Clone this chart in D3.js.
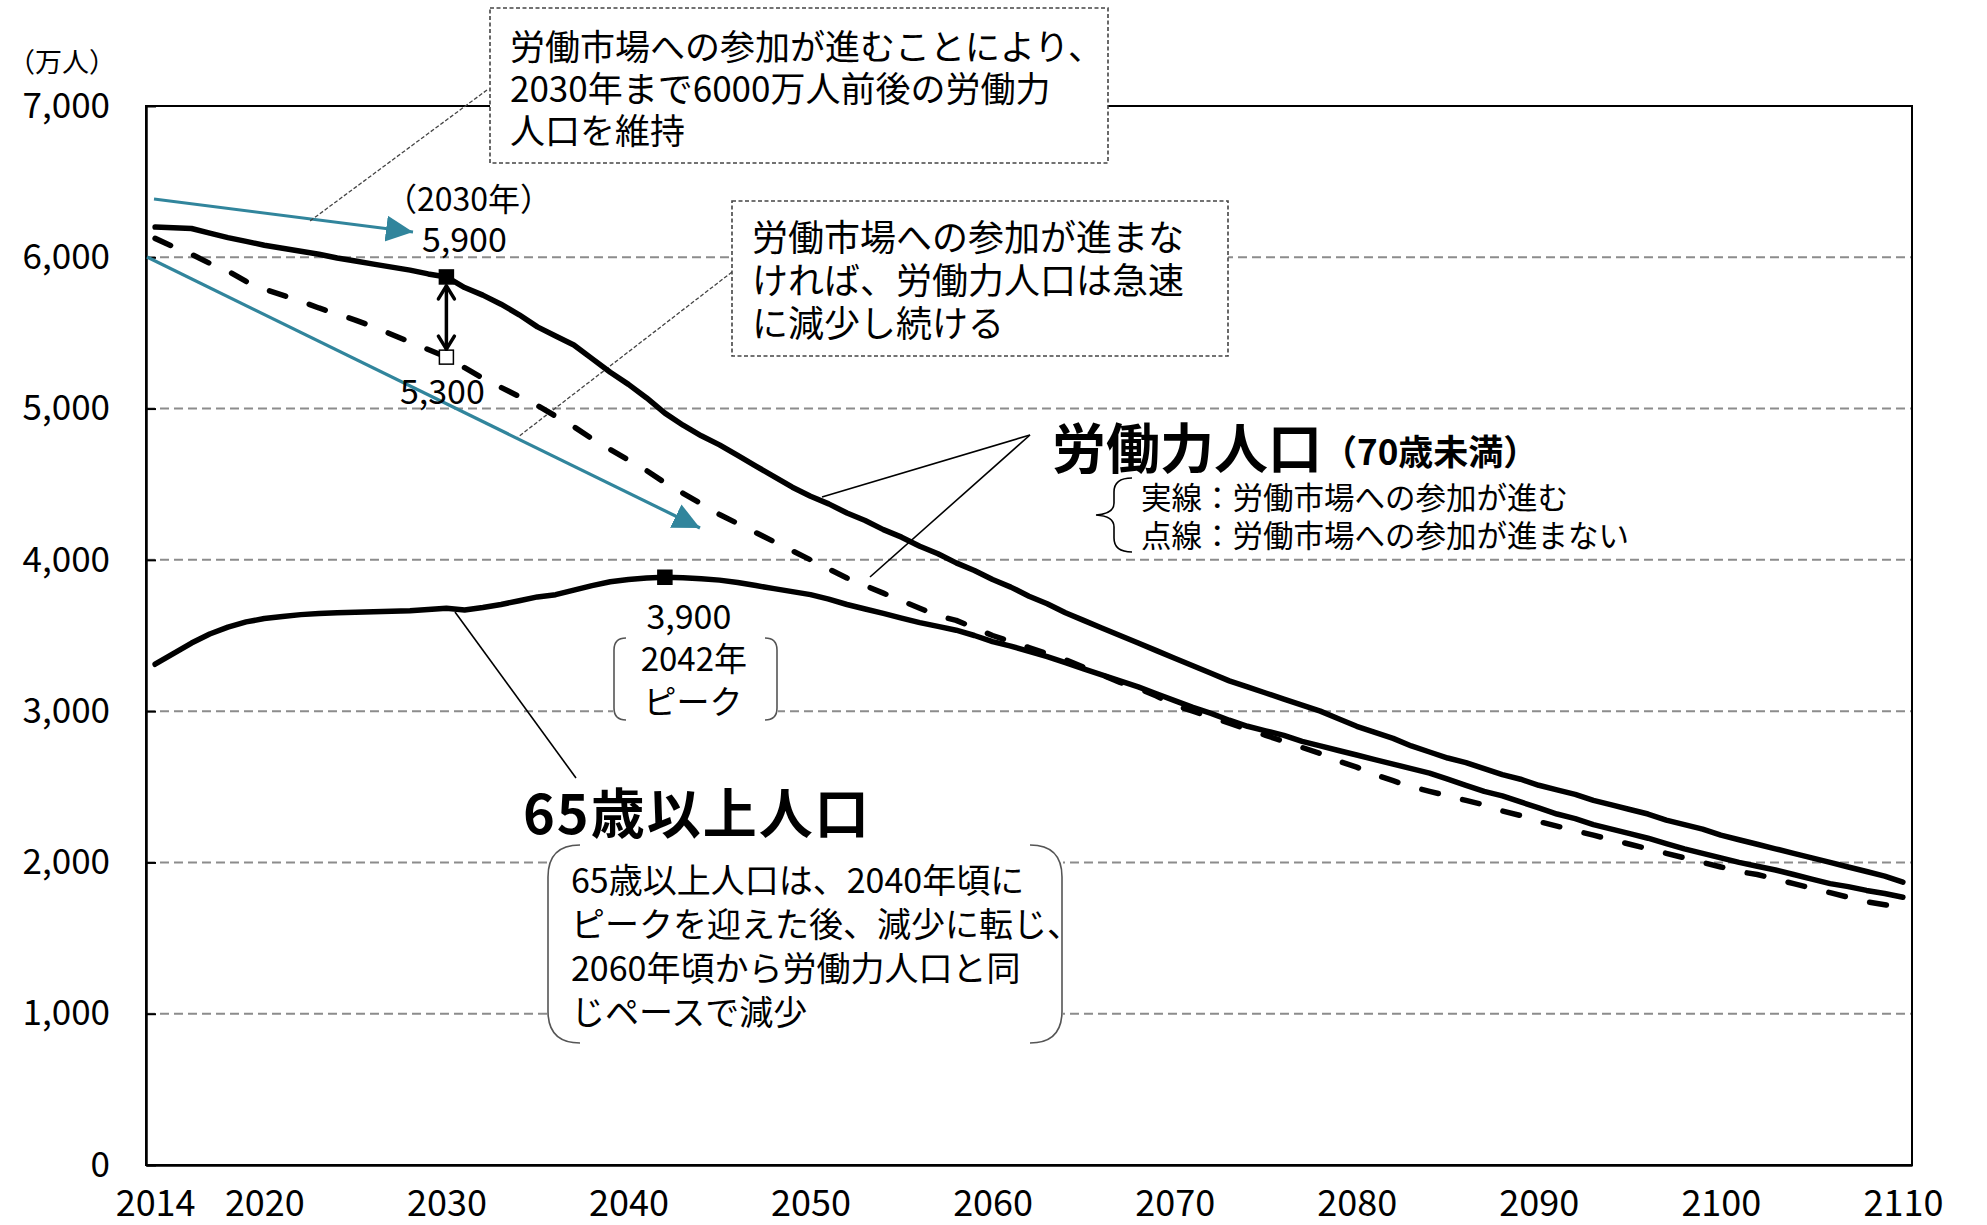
<!DOCTYPE html>
<html>
<head>
<meta charset="utf-8">
<script src="https://cdn.jsdelivr.net/npm/d3@7"></script>
<style>
  html, body { margin: 0; padding: 0; background: #fff; }
  svg text { font-family: "Noto Sans CJK JP", sans-serif; fill: #000; }
</style>
</head>
<body>
<div id="chart"></div>
<script>
// years on the category axis
const years = d3.range(2014, 2111);
const xTicks = [2014, 2020, 2030, 2040, 2050, 2060, 2070, 2080, 2090, 2100, 2110];
const yTicks = [0, 1000, 2000, 3000, 4000, 5000, 6000, 7000];

// 労働力人口（労働市場への参加が進む） - solid
const laborUp = [
  6200, 6195, 6190, 6160, 6130, 6105, 6080, 6060, 6040, 6020,
  5995, 5975, 5955, 5935, 5915, 5890, 5870, 5800, 5750, 5690,
  5620, 5540, 5480, 5420, 5330, 5240, 5160, 5070, 4970, 4890,
  4820, 4760, 4690, 4620, 4550, 4480, 4420, 4370, 4310, 4260,
  4200, 4150, 4090, 4040, 3980, 3930, 3870, 3820, 3760, 3710,
  3650, 3600, 3550, 3500, 3450, 3400, 3350, 3300, 3250, 3200,
  3160, 3120, 3080, 3040, 3000, 2950, 2900, 2860, 2820, 2770,
  2730, 2690, 2660, 2620, 2580, 2550, 2510, 2480, 2450, 2410,
  2380, 2350, 2320, 2280, 2250, 2220, 2180, 2150, 2120, 2090,
  2060, 2030, 2000, 1970, 1940, 1910, 1870
];

// 労働力人口（参加が進まない） - dashed
const laborBase = [
  6125, 6070, 6020, 5960, 5910, 5840, 5790, 5750, 5710, 5665,
  5625, 5585, 5540, 5490, 5440, 5390, 5340, 5270, 5200, 5140,
  5080, 5020, 4950, 4880, 4800, 4730, 4660, 4590, 4510, 4440,
  4370, 4300, 4240, 4180, 4120, 4060, 4000, 3940, 3880, 3830,
  3780, 3730, 3680, 3630, 3600, 3550, 3500, 3460, 3420, 3380,
  3340, 3290, 3240, 3190, 3150, 3100, 3040, 3000, 2960, 2920,
  2880, 2840, 2800, 2760, 2720, 2670, 2630, 2580, 2540, 2500,
  2470, 2440, 2410, 2380, 2340, 2310, 2270, 2240, 2210, 2180,
  2150, 2120, 2090, 2060, 2030, 2000, 1970, 1940, 1920, 1890,
  1860, 1830, 1800, 1770, 1740, 1720, 1700
];

// 65歳以上人口
const elderly = [
  3310, 3380, 3450, 3510, 3555, 3590, 3612, 3625, 3638, 3645,
  3650, 3653, 3657, 3660, 3664, 3672, 3680, 3668, 3685, 3705,
  3730, 3755, 3770, 3800, 3830, 3855, 3870, 3880, 3885, 3882,
  3875, 3866, 3850, 3830, 3810, 3790, 3770, 3740, 3705, 3675,
  3646, 3615, 3585, 3560, 3535, 3500, 3460, 3430, 3395, 3360,
  3320, 3280, 3240, 3200, 3160, 3115, 3070, 3025, 2985, 2940,
  2900, 2870, 2840, 2800, 2770, 2740, 2710, 2680, 2650, 2620,
  2590, 2550, 2510, 2470, 2440, 2400, 2360, 2320, 2290, 2250,
  2220, 2190, 2160, 2125, 2090, 2060, 2030, 2000, 1975, 1950,
  1920, 1890, 1860, 1840, 1815, 1795, 1770
];

const width = 1987;
const height = 1225;
const teal = "#31859C";

const svg = d3.select("#chart")
  .append("svg")
  .attr("width", width)
  .attr("height", height);

const x = d3.scaleLinear().domain([2013.5, 2110.5]).range([146, 1912]);
const y = d3.scaleLinear().domain([0, 7000]).range([1165, 106]);

// gridlines
svg.append("g")
  .selectAll("line")
  .data(yTicks.filter(d => d > 0 && d < 7000))
  .join("line")
  .attr("x1", x.range()[0])
  .attr("x2", x.range()[1])
  .attr("y1", d => y(d))
  .attr("y2", d => y(d))
  .attr("stroke", "#8c8c8c")
  .attr("stroke-width", 2)
  .attr("stroke-dasharray", "9,5");

// plot border
svg.append("rect")
  .attr("x", x.range()[0])
  .attr("y", y(7000))
  .attr("width", x.range()[1] - x.range()[0])
  .attr("height", y(0) - y(7000))
  .attr("fill", "none")
  .attr("stroke", "#000")
  .attr("stroke-width", 2);

// axes
const yAxis = svg.append("g")
  .attr("transform", `translate(${x.range()[0]},0)`)
  .call(d3.axisLeft(y).tickValues(yTicks).tickFormat(d3.format(","))
    .tickSize(-10).tickSizeOuter(0).tickPadding(36))
  .attr("font-size", 35);
yAxis.select(".domain").attr("stroke-width", 2.5);
yAxis.selectAll(".tick line").attr("stroke-width", 2);

const xAxis = svg.append("g")
  .attr("transform", `translate(0,${y(0)})`)
  .call(d3.axisBottom(x).tickValues(xTicks).tickFormat(d3.format("d"))
    .tickSize(0).tickSizeOuter(0).tickPadding(25))
  .attr("font-size", 36);
xAxis.select(".domain").attr("stroke-width", 2.5);

// teal arrows
const defs = svg.append("defs");
defs.append("marker")
  .attr("id", "tealHead")
  .attr("markerUnits", "userSpaceOnUse")
  .attr("markerWidth", 30).attr("markerHeight", 30)
  .attr("refX", 27).attr("refY", 13)
  .attr("orient", "auto")
  .append("path")
  .attr("d", "M0,0 L27,13 L0,26 Z")
  .attr("fill", teal);

const tealArrows = [
  [[154, 199], [413, 232]],
  [[147, 257], [700, 528]]
];
svg.append("g")
  .selectAll("line")
  .data(tealArrows)
  .join("line")
  .attr("x1", d => d[0][0]).attr("y1", d => d[0][1])
  .attr("x2", d => d[1][0]).attr("y2", d => d[1][1])
  .attr("stroke", teal)
  .attr("stroke-width", 3.2)
  .attr("marker-end", "url(#tealHead)");

// thin dashed connectors from the text boxes
const connectors = [
  [[487, 90], [310, 221]],
  [[732, 272], [518, 437]]
];
svg.append("g")
  .selectAll("line")
  .data(connectors)
  .join("line")
  .attr("x1", d => d[0][0]).attr("y1", d => d[0][1])
  .attr("x2", d => d[1][0]).attr("y2", d => d[1][1])
  .attr("stroke", "#444")
  .attr("stroke-width", 1.3)
  .attr("stroke-dasharray", "4,2");

// leader lines for the big labels
const leaders = [
  [[1030, 435], [822, 497]],
  [[1030, 435], [870, 577]],
  [[455, 612], [576, 778]]
];
svg.append("g")
  .selectAll("line")
  .data(leaders)
  .join("line")
  .attr("x1", d => d[0][0]).attr("y1", d => d[0][1])
  .attr("x2", d => d[1][0]).attr("y2", d => d[1][1])
  .attr("stroke", "#000")
  .attr("stroke-width", 1.6);

// data lines
const line = d3.line()
  .x((d, i) => x(years[i]))
  .y(d => y(d));

const series = [
  { values: laborBase, dash: "17,25" },
  { values: elderly, dash: null },
  { values: laborUp, dash: null }
];
svg.append("g")
  .selectAll("path")
  .data(series)
  .join("path")
  .attr("d", d => line(d.values))
  .attr("fill", "none")
  .attr("stroke", "#000")
  .attr("stroke-width", 5.5)
  .attr("stroke-linejoin", "round")
  .attr("stroke-linecap", "round")
  .attr("stroke-dasharray", d => d.dash);

// markers
const idx = yr => years.indexOf(yr);
const sq = 14;
const markers = [
  { yr: 2030, v: laborUp[idx(2030)], fill: "#000" },
  { yr: 2042, v: elderly[idx(2042)], fill: "#000" },
  { yr: 2030, v: laborBase[idx(2030)], fill: "#fff" }
];
svg.append("g")
  .selectAll("rect")
  .data(markers)
  .join("rect")
  .attr("x", d => x(d.yr) - sq / 2)
  .attr("y", d => y(d.v) - sq / 2)
  .attr("width", sq)
  .attr("height", sq)
  .attr("fill", d => d.fill)
  .attr("stroke", "#000")
  .attr("stroke-width", 1.5);

// double headed arrow at 2030
const ax = x(2030);
const aTop = y(laborUp[idx(2030)]) + 9;
const aBot = y(laborBase[idx(2030)]) - 8;
const dbl = svg.append("g").attr("stroke", "#000").attr("fill", "none")
  .attr("stroke-width", 3.5).attr("stroke-linecap", "round").attr("stroke-linejoin", "round");
dbl.append("line").attr("x1", ax).attr("x2", ax).attr("y1", aTop).attr("y2", aBot);
dbl.append("path").attr("d", `M${ax - 8},${aTop + 13} L${ax},${aTop} L${ax + 8},${aTop + 13}`);
dbl.append("path").attr("d", `M${ax - 8},${aBot - 13} L${ax},${aBot} L${ax + 8},${aBot - 13}`);

// helper for multi-line text
function textLines(lines, x0, y0, dy, size, weight) {
  const t = svg.append("text")
    .attr("font-size", size)
    .attr("font-weight", weight || 400);
  lines.forEach((s, i) => {
    t.append("tspan")
      .attr("x", x0)
      .attr("y", y0 + i * dy)
      .attr("dominant-baseline", "central")
      .text(s);
  });
  return t;
}

// value labels near the markers
const lab = (txt, xx, yy, size) => svg.append("text")
  .attr("x", xx).attr("y", yy)
  .attr("text-anchor", "middle")
  .attr("dominant-baseline", "central")
  .attr("font-size", size)
  .text(txt);

lab("（2030年）", x(2030) + 22, y(laborUp[idx(2030)]) - 80, 32);
lab("5,900", x(2030) + 18, y(laborUp[idx(2030)]) - 39, 34);
lab("5,300", x(2030) - 4, y(laborBase[idx(2030)]) + 32, 34);
lab("3,900", x(2042) + 24, y(elderly[idx(2042)]) + 37, 34);

// bracket helper: side -1 = left "(" , +1 = right ")"
function bracket(x0, yTop, yBot, r, side) {
  const s = side < 0 ? 1 : -1;
  return `M${x0 + s * r},${yTop} Q${x0},${yTop} ${x0},${yTop + r} L${x0},${yBot - r} Q${x0},${yBot} ${x0 + s * r},${yBot}`;
}

// 2042 peak bracket
svg.append("rect").attr("x", 613).attr("y", 638).attr("width", 165).attr("height", 82).attr("fill", "#fff");
svg.append("path").attr("d", bracket(614, 638, 720, 12, -1)).attr("fill", "none").attr("stroke", "#555").attr("stroke-width", 1.6);
svg.append("path").attr("d", bracket(777, 638, 720, 12, 1)).attr("fill", "none").attr("stroke", "#555").attr("stroke-width", 1.6);
lab("2042年", x(2042) + 29, y(elderly[idx(2042)]) + 80, 33);
lab("ピーク", x(2042) + 28, y(elderly[idx(2042)]) + 123, 33);

// dashed callout boxes
const boxes = [
  { x: 490, y: 8, w: 618, h: 155, lines: ["労働市場への参加が進むことにより、", "2030年まで6000万人前後の労働力", "人口を維持"], tx: 510, ty: 44, dy: 42, size: 35 },
  { x: 732, y: 201, w: 496, h: 155, lines: ["労働市場への参加が進まな", "ければ、労働力人口は急速", "に減少し続ける"], tx: 752, ty: 235, dy: 43, size: 36 }
];
boxes.forEach(b => {
  svg.append("rect")
    .attr("x", b.x).attr("y", b.y).attr("width", b.w).attr("height", b.h)
    .attr("fill", "#fff")
    .attr("stroke", "#444")
    .attr("stroke-width", 1.6)
    .attr("stroke-dasharray", "4,2.5");
  textLines(b.lines, b.tx, b.ty, b.dy, b.size);
});

// 65+ explanation with round brackets
svg.append("rect").attr("x", 547).attr("y", 845).attr("width", 516).attr("height", 198).attr("fill", "#fff");
svg.append("path").attr("d", bracket(548, 845, 1043, 32, -1)).attr("fill", "none").attr("stroke", "#555").attr("stroke-width", 1.6);
svg.append("path").attr("d", bracket(1062, 845, 1043, 32, 1)).attr("fill", "none").attr("stroke", "#555").attr("stroke-width", 1.6);
textLines(["65歳以上人口は、2040年頃に", "ピークを迎えた後、減少に転じ、", "2060年頃から労働力人口と同", "じペースで減少"], 571, 878, 44, 34);

// big series labels
textLines(["労働力人口"], 1052, 445, 0, 54, 700);
textLines(["（70歳未満）"], 1322, 449, 0, 35, 700);
textLines(["65歳以上人口"], 523, 810, 0, 54, 700).attr("letter-spacing", 2);

// legend brace and notes
svg.append("path")
  .attr("d", "M1132,478 Q1114,478 1114,492 L1114,503 Q1114,514 1096,515 Q1114,516 1114,527 L1114,538 Q1114,552 1132,552")
  .attr("fill", "none")
  .attr("stroke", "#000")
  .attr("stroke-width", 1.6);
textLines(["実線：労働市場への参加が進む", "点線：労働市場への参加が進まない"], 1141, 496, 38, 30.5);

// unit label
svg.append("text")
  .attr("x", 8).attr("y", 60)
  .attr("dominant-baseline", "central")
  .attr("font-size", 27)
  .text("（万人）");
</script>
</body>
</html>
